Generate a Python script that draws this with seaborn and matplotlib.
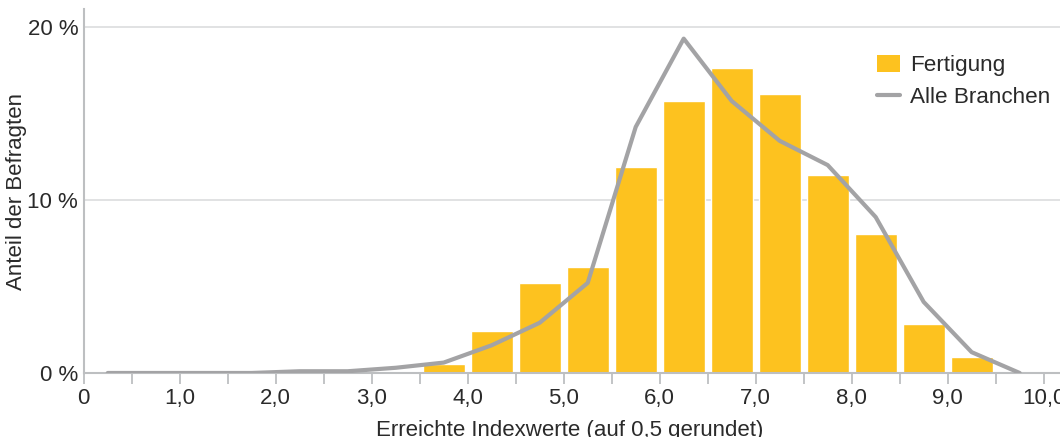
import matplotlib
matplotlib.use("Agg")
import matplotlib.pyplot as plt
from matplotlib.patches import Patch
from matplotlib.lines import Line2D
from matplotlib.ticker import FuncFormatter
import seaborn as sns
import pandas as pd
import numpy as np

# Fertigung (bars), share of respondents in %
bar_x = [3.75, 4.25, 4.75, 5.25, 5.75, 6.25, 6.75, 7.25, 7.75, 8.25, 8.75, 9.25]
bar_y = [0.5, 2.4, 5.2, 6.1, 11.9, 15.7, 17.6, 16.1, 11.4, 8.0, 2.8, 0.9]

# Alle Branchen (line)
line_x = [0.25, 0.75, 1.25, 1.75, 2.25, 2.75, 3.25, 3.75, 4.25, 4.75,
          5.25, 5.75, 6.25, 6.75, 7.25, 7.75, 8.25, 8.75, 9.25, 9.75]
line_y = [0.0, 0.0, 0.0, 0.0, 0.1, 0.1, 0.3, 0.6, 1.6, 2.9,
          5.2, 14.2, 19.3, 15.7, 13.4, 12.0, 9.0, 4.1, 1.2, 0.0]

y_ticks = [0, 10, 20]
x_ticks = np.arange(0, 10.01, 0.5)

BAR_COLOR = "#FDC21F"
LINE_COLOR = "#A3A3A5"
TEXT_COLOR = "#2a2a2a"
AXIS_COLOR = "#BDBFC1"
GRID_COLOR = "#DCDDDE"

sns.set_style("white")
plt.rcParams["font.family"] = ["Liberation Sans", "DejaVu Sans"]

fig = plt.figure(figsize=(10.6, 4.37), dpi=100)
ax = fig.add_axes([0.079, 0.1465, 0.921, 0.8325])

bars = pd.DataFrame({"x": bar_x, "y": bar_y})
line = pd.DataFrame({"x": line_x, "y": line_y})

sns.barplot(data=bars, x="x", y="y", native_scale=True, width=0.88,
            color=BAR_COLOR, saturation=1, ax=ax, zorder=2)
sns.lineplot(data=line, x="x", y="y", color=LINE_COLOR, linewidth=3,
             ax=ax, zorder=3)

ax.set_xlim(0, 10.17)
ax.set_ylim(0, 21)

for t in [10, 20]:
    ax.axhline(t, color=GRID_COLOR, lw=1.2, zorder=1)

ax.set_xticks(x_ticks)
ax.xaxis.set_major_formatter(FuncFormatter(
    lambda v, p: "0" if v == 0 else (f"{v:.1f}".replace(".", ",") if abs(v - round(v)) < 1e-6 else "")))
ax.set_yticks(y_ticks)
ax.set_yticklabels([f"{t} %" for t in y_ticks])

ax.tick_params(axis="x", length=8, width=1.3, color=AXIS_COLOR, labelsize=16,
               labelcolor=TEXT_COLOR, pad=3, direction="out", bottom=True)
ax.tick_params(axis="y", length=0, labelsize=16, labelcolor=TEXT_COLOR, pad=4)

for s in ["top", "right"]:
    ax.spines[s].set_visible(False)
ax.spines["left"].set_color(AXIS_COLOR)
ax.spines["bottom"].set_color(AXIS_COLOR)
ax.spines["left"].set_linewidth(1.5)
ax.spines["bottom"].set_linewidth(1.5)

ax.set_xlabel("Erreichte Indexwerte (auf 0,5 gerundet)", fontsize=16,
              color=TEXT_COLOR)
ax.xaxis.set_label_coords(0.498, -0.128)
ax.set_ylabel("Anteil der Befragten", fontsize=16, color=TEXT_COLOR)
ax.yaxis.set_label_coords(-0.058, 0.5)

handles = [Patch(facecolor=BAR_COLOR, edgecolor="none", label="Fertigung"),
           Line2D([0], [0], color=LINE_COLOR, lw=3, label="Alle Branchen")]
ax.legend(handles=handles, loc="upper right", bbox_to_anchor=(1.006, 0.918),
          frameon=False, fontsize=16.2, handlelength=1.0, handleheight=0.8,
          handletextpad=0.45, labelspacing=0.45, labelcolor=TEXT_COLOR,
          borderaxespad=0.3)

fig.savefig("out.png", dpi=100)
